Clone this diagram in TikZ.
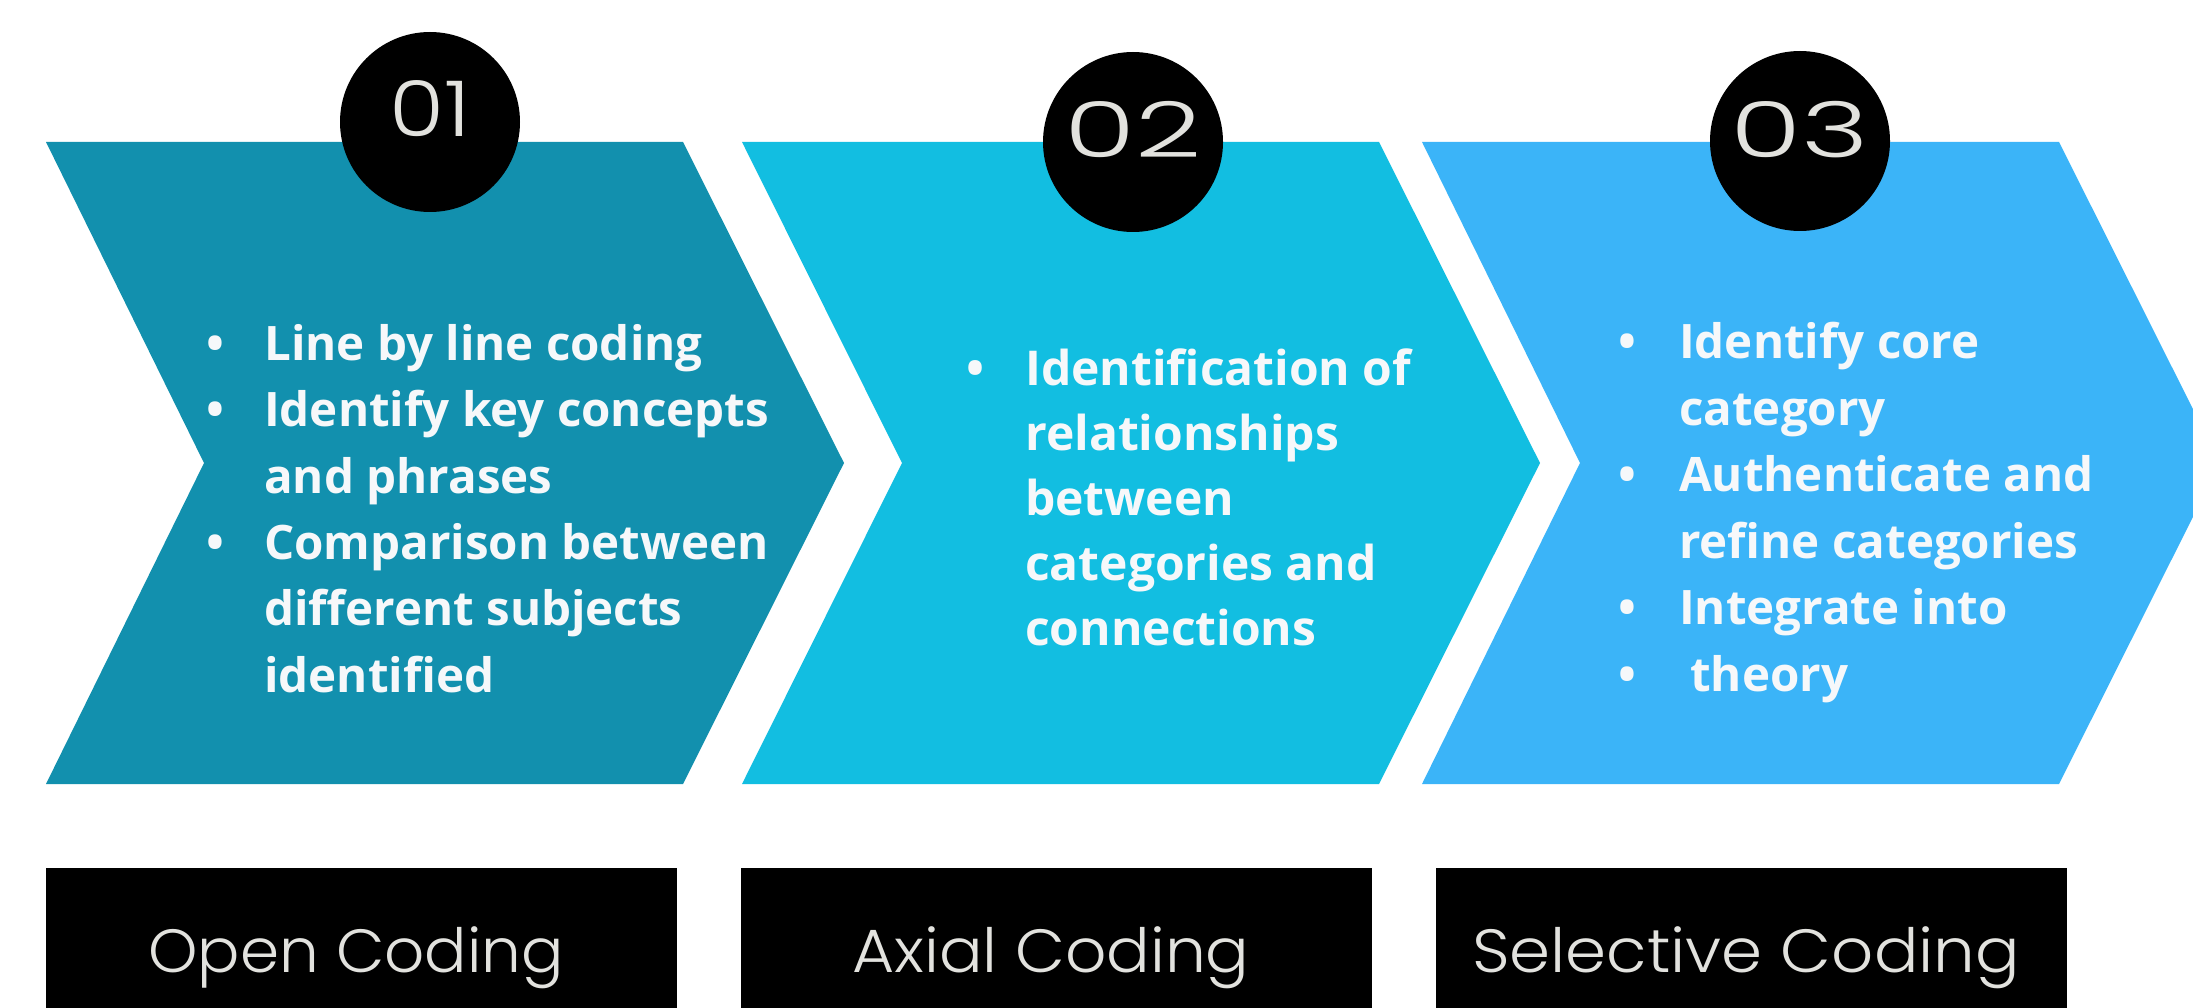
\documentclass[tikz,border=0pt]{standalone}
\usepackage{fontspec}
\setmainfont{Open Sans}
\newfontfamily\labfont{Poppins}[UprightFont=* Light]
\definecolor{cA}{RGB}{18,144,174}
\definecolor{cB}{RGB}{18,190,225}
\definecolor{cC}{RGB}{59,180,248}
\definecolor{txtc}{RGB}{246,248,250}
\definecolor{labc}{RGB}{226,226,222}
\newcommand{\bulA}{\makebox[49pt][l]{\makebox[0pt]{\textbullet}}}
\newcommand{\bulB}{\makebox[50pt][l]{\makebox[0pt]{\textbullet}}}
\newcommand{\bulC}{\makebox[52pt][l]{\makebox[0pt]{\textbullet}}}
\begin{document}
\begin{tikzpicture}[x=1pt,y=-1pt,
  numcirc/.style={circle,fill=black,minimum size=180pt,inner sep=0pt},
  numtxt/.style={font=\labfont\fontsize{77}{77}\selectfont,text=labc,inner sep=0pt},
  bodytxt/.style={font=\bfseries\fontsize{47.5}{66.5}\selectfont,text=txtc,inner sep=0pt,anchor=base west},
  labbox/.style={fill=black,minimum width=631pt,minimum height=160pt,inner sep=0pt,anchor=north west},
  labtxt/.style={font=\labfont\fontsize{61}{61}\selectfont,text=labc,inner sep=0pt,anchor=base}]
\useasboundingbox (0,0) rectangle (2193,1008);
\clip (0,0) rectangle (2193,1008);
\fill[white] (0,0) rectangle (2193,1008);
% chevrons
\fill[cA] (46,142) -- (683,142) -- (844,463) -- (683,784) -- (46,784) -- (204,463) -- cycle;
\fill[cB] (742,142) -- (1379,142) -- (1540,463) -- (1379,784) -- (742,784) -- (902,463) -- cycle;
\fill[cC] (1422,142) -- (2059,142) -- (2220,463) -- (2059,784) -- (1422,784) -- (1580,463) -- cycle;
% number circles
\node[numcirc] (c1) at (430,122) {};
\node[numcirc] (c2) at (1133,142) {};
\node[numcirc] (c3) at (1800,141) {};
\node[numtxt] (n1) at (430,109) {\scalebox{1.16}[1]{01}};
\node[numtxt] (n2) at (1133,130) {\scalebox{1.5}[1]{02}};
\node[numtxt] (n3) at (1800,130) {\scalebox{1.5}[1]{03}};
% body texts
\node[bodytxt] (t1) at (215,360) {\begin{tabular}[t]{@{}l@{}l@{}}
\bulA & Line by line coding\\
\bulA & Identify key concepts\\
 & and phrases\\
\bulA & Comparison between\\
 & different subjects\\
 & identified
\end{tabular}};
\node[bodytxt,font=\bfseries\fontsize{48}{65}\selectfont] (t2) at (975,385) {\begin{tabular}[t]{@{}l@{}l@{}}
\bulB & Identification of\\
 & relationships\\
 & between\\
 & categories and\\
 & connections
\end{tabular}};
\node[bodytxt] (t3) at (1627,359) {\begin{tabular}[t]{@{}l@{}l@{}}
\bulC & Identify core\\
 & category\\
\bulC & Authenticate and\\
 & refine categories\\
\bulC & Integrate into\\
\bulC & \hspace*{11pt}theory
\end{tabular}};
% label boxes
\node[labbox] (b1) at (46,868) {};
\node[labbox] (b2) at (741,868) {};
\node[labbox] (b3) at (1436,868) {};
\node[labtxt] (l1) at (356,972) {\scalebox{1.03}[1]{Open Coding}};
\node[labtxt] (l2) at (1051,972) {\scalebox{1.06}[1]{Axial Coding}};
\node[labtxt] (l3) at (1746,972) {\scalebox{1.08}[1]{Selective Coding}};
\end{tikzpicture}
\end{document}
